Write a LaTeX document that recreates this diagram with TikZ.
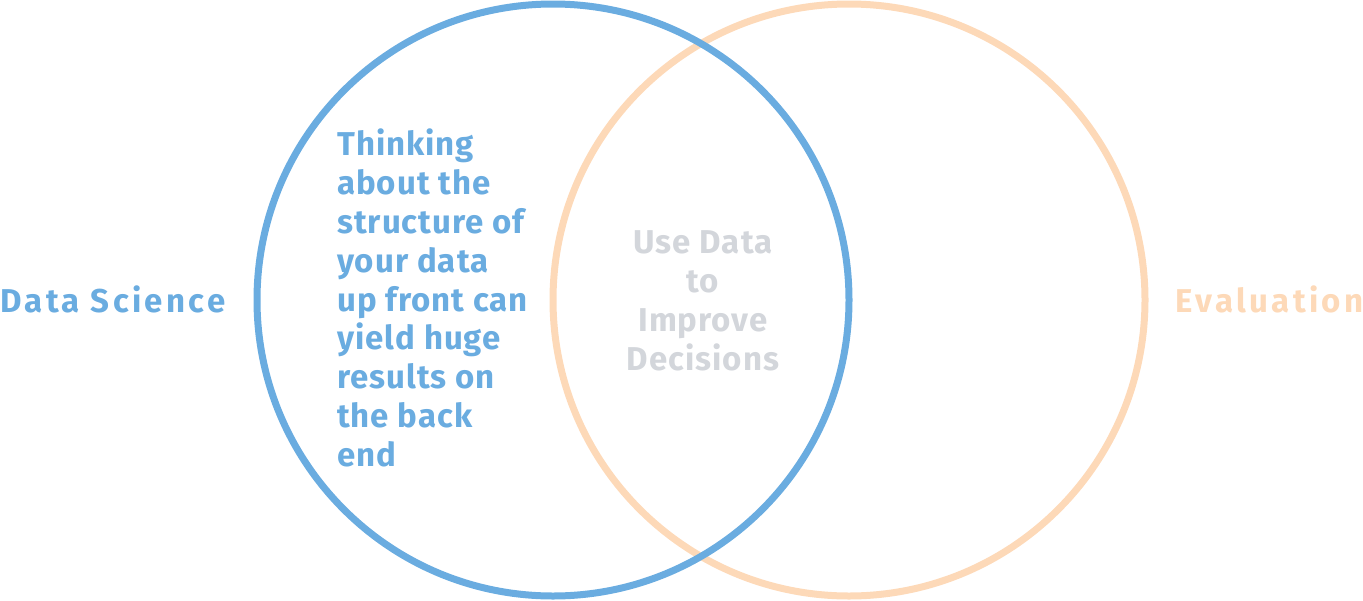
\documentclass[tikz,border=0pt]{standalone}
\usepackage{fontspec}
\setmainfont{Fira Sans}[LetterSpace=3]
\newfontfamily\widefont{Fira Sans}[LetterSpace=10]
\definecolor{dsblue}{HTML}{6AACE0}
\definecolor{evorange}{HTML}{FDD9B8}
\definecolor{midgray}{HTML}{D3D6DB}
\begin{document}
\begin{tikzpicture}[x=1pt,y=-1pt,
  ring/.style={line width=7pt},
  lbl/.style={inner sep=0pt, font=\bfseries\fontsize{33}{38.8}\selectfont},
  sidelbl/.style={inner sep=0pt, font=\widefont\bfseries\fontsize{33}{38.8}\selectfont}]
\useasboundingbox (0,0) rectangle (1363,600);
\draw[ring, evorange] (849,300) circle[radius=296];
\draw[ring, dsblue] (553,300) circle[radius=296];
\node[sidelbl, text=dsblue, anchor=base west] (ds) at (0,312.7) {Data Science};
\node[sidelbl, text=evorange, anchor=base east] (ev) at (1363.5,312.7) {Evaluation};
\node[lbl, text=dsblue, anchor=north west, align=left] (think) at (337,129)
 {Thinking\\about the\\structure of\\your data\\up front can\\yield huge\\results on\\the back\\end};
\node[lbl, text=midgray, anchor=north, align=center, font=\bfseries\fontsize{33}{39.3}\selectfont] (mid) at (703,230)
 {Use Data\\to\\Improve\\Decisions};
\end{tikzpicture}
\end{document}
